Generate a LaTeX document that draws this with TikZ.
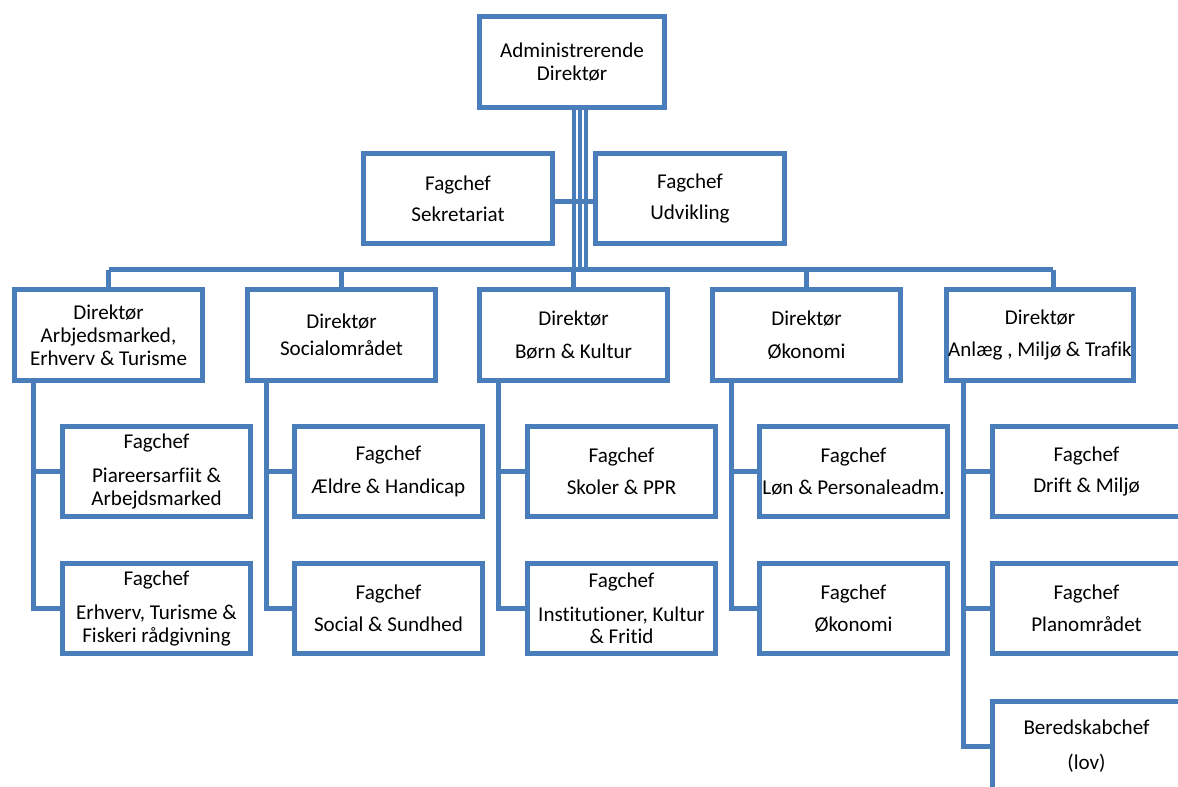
\documentclass[tikz,border=0pt]{standalone}
\usepackage{fontspec}
\setmainfont{Carlito}[Ligatures=NoCommon]

\definecolor{orgblue}{HTML}{4A7EBB}
\tikzset{
  unit/.style={draw=orgblue, line width=0.1cm, fill=white, minimum width=3.76cm,
    minimum height=1.82cm, inner sep=0pt, align=center,
    font=\fontsize{12}{13}\selectfont},
  link/.style={draw=orgblue, line width=0.1cm},
  trunk/.style={draw=orgblue, line width=0.08cm}
}

\begin{document}
\begin{tikzpicture}[x=0.02cm, y=-0.02cm]
\useasboundingbox (0,0) rectangle (1178,787);
\clip (0,0) rectangle (1178,787);

% Draw the top boxes
\node[unit, minimum width=3.70cm] (ceo) at (572,62) {Administrerende\\Direktør};
\node[unit, minimum width=3.78cm, minimum height=1.80cm] (sek) at (458,198.5) {Fagchef\\[4.5pt]Sekretariat};
\node[unit, minimum width=3.78cm, minimum height=1.80cm] (udv) at (690,198.5) {Fagchef\\[4.5pt]Udvikling};

% Draw the directors
\node[unit] (d1) at (108.5,335) {Direktør\\Arbjedsmarked,\\Erhverv \& Turisme};
\node[unit] (d2) at (341.5,335) {Direktør\\[2.5pt]Socialområdet};
\node[unit] (d3) at (573.5,335) {Direktør\\[5.5pt]Børn \& Kultur};
\node[unit] (d4) at (806.5,335) {Direktør\\[5.5pt]Økonomi};
\node[unit] (d5) at (1040,335) {Direktør\\[5.5pt]Anlæg , Miljø \& Trafik};

% Draw the fagchefs
\node[unit] (s11) at (156.5,471.5) {Fagchef\\[6pt]Piareersarfiit \&\\Arbejdsmarked};
\node[unit] (s12) at (156.5,608.5) {Fagchef\\[6pt]Erhverv, Turisme \&\\Fiskeri rådgivning};
\node[unit] (s21) at (388.5,471.5) {Fagchef\\[5.5pt]Ældre \& Handicap};
\node[unit] (s22) at (388.5,608.5) {Fagchef\\[5.5pt]Social \& Sundhed};
\node[unit] (s31) at (621.5,471.5) {Fagchef\\[5.5pt]Skoler \& PPR};
\node[unit] (s32) at (621.5,608.5) {Fagchef\\[6pt]Institutioner, Kultur\\\& Fritid};
\node[unit] (s41) at (853.5,471.5) {Fagchef\\[5pt]Løn \& Personaleadm.};
\node[unit] (s42) at (853.5,608.5) {Fagchef\\[5pt]Økonomi};
\node[unit] (s51) at (1086.5,471.5) {Fagchef\\[5pt]Drift \& Miljø};
\node[unit] (s52) at (1086.5,608.5) {Fagchef\\[5pt]Planområdet};
\node[unit] (s53) at (1086.5,746.5) {Beredskabchef\\[7pt](lov)};

% Draw the trunk
\coordinate (barL) at (108.5,270);
\coordinate (barR) at (1053,270);
\draw[trunk] ([xshift=0.04cm]ceo.south) -- ([xshift=0.04cm]ceo.south |- barL);
\draw[trunk] ([xshift=0.16cm]ceo.south) -- ([xshift=0.16cm]ceo.south |- barL);
\draw[trunk] ([xshift=0.28cm]ceo.south) -- ([xshift=0.28cm]ceo.south |- barL);
\draw[link] ([yshift=-0.07cm]sek.east) -- ([yshift=-0.07cm]udv.west);

% Draw the bar
\draw[link] (barL) -- (barR);
\draw[link] (barL) -- (d1.north);
\draw[link] (d2.north) -- (d2.north |- barL);
\draw[link] (d3.north) -- (d3.north |- barL);
\draw[link] (d4.north) -- (d4.north |- barL);
\draw[link] (barR) -- (barR |- d5.north);

% Draw the columns
\draw[link] ([xshift=0.42cm]d1.south west) |- (s12.west);
\draw[link] ([xshift=0.42cm]d1.south west |- s11.west) -- (s11.west);
\draw[link] ([xshift=0.42cm]d2.south west) |- (s22.west);
\draw[link] ([xshift=0.42cm]d2.south west |- s21.west) -- (s21.west);
\draw[link] ([xshift=0.42cm]d3.south west) |- (s32.west);
\draw[link] ([xshift=0.42cm]d3.south west |- s31.west) -- (s31.west);
\draw[link] ([xshift=0.42cm]d4.south west) |- (s42.west);
\draw[link] ([xshift=0.42cm]d4.south west |- s41.west) -- (s41.west);
\draw[link] ([xshift=0.40cm]d5.south west) |- (s53.west);
\draw[link] ([xshift=0.40cm]d5.south west |- s51.west) -- (s51.west);
\draw[link] ([xshift=0.40cm]d5.south west |- s52.west) -- (s52.west);

\end{tikzpicture}
\end{document}
